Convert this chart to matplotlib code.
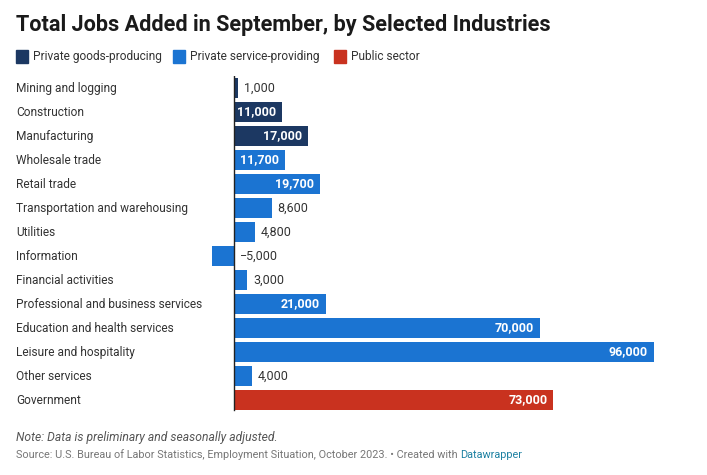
import matplotlib.pyplot as plt
import matplotlib.transforms as mtransforms
from matplotlib.patches import Rectangle

plt.rcParams['font.family'] = ['Roboto', 'DejaVu Sans']

# data
industries = ['Mining and logging', 'Construction', 'Manufacturing', 'Wholesale trade',
              'Retail trade', 'Transportation and warehousing', 'Utilities', 'Information',
              'Financial activities', 'Professional and business services',
              'Education and health services', 'Leisure and hospitality',
              'Other services', 'Government']
jobs = [1000, 11000, 17000, 11700, 19700, 8600, 4800, -5000, 3000, 21000,
        70000, 96000, 4000, 73000]
sector = ['goods', 'goods', 'goods', 'service', 'service', 'service', 'service', 'service',
          'service', 'service', 'service', 'service', 'service', 'public']
legend_labels = ['Private goods-producing', 'Private service-providing', 'Public sector']

colors = {'goods': '#1c3862', 'service': '#1b74d2', 'public': '#c9321f'}
W, H = 707, 475

fig = plt.figure(figsize=(W / 100, H / 100), dpi=100)
fig.patch.set_facecolor('white')

# axes placed in pixels: zero at x=234, 96000 at x=654
k = 420 / 96000
ax_l, ax_r = 200, 680
ax_t, ax_b = 76, 412
ax = fig.add_axes([ax_l / W, 1 - ax_b / H, (ax_r - ax_l) / W, (ax_b - ax_t) / H])
ax.set_xlim(-(234 - ax_l) / k, (ax_r - 234) / k)
ax.set_ylim(len(industries) - 0.5, -0.5)
ax.axis('off')

ypos = list(range(len(industries)))
ax.barh(ypos, jobs, height=20 / 24, color=[colors[s] for s in sector], zorder=2)
ax.axvline(0, ymin=0.005, ymax=1, color='#222222', lw=1, zorder=3)

trans = mtransforms.blended_transform_factory(fig.transFigure, ax.transData)
off = 6 / k
for y, name, v in zip(ypos, industries, jobs):
    ax.text(16 / W, y, name, transform=trans, ha='left', va='center',
            fontsize=8.6, color='#333333')
    lab = f'{abs(v):,}'
    if v < 0:
        lab = '\u2212' + lab
    if v >= 10000:
        ax.text(v - off, y, lab, ha='right', va='center', fontsize=9,
                fontweight='bold', color='white', zorder=4)
    else:
        ax.text(max(v, 0) + off, y, lab, ha='left', va='center', fontsize=9,
                color='#333333', zorder=4)

# title
fig.text(16 / W, 1 - 25.5 / H, 'Total Jobs Added in September, by Selected Industries',
         fontsize=15.6, fontweight='bold', color='#1a1a1a', ha='left', va='center')

# legend
lx = [16, 173, 334]
for x0, lab, key in zip(lx, legend_labels, ['goods', 'service', 'public']):
    fig.add_artist(Rectangle((x0 / W, 1 - 63 / H), 12 / W, 13 / H,
                             transform=fig.transFigure, color=colors[key]))
    fig.text((x0 + 17) / W, 1 - 56.5 / H, lab, fontsize=8.6, color='#333333',
             ha='left', va='center')

# notes
fig.text(16 / W, 1 - 437 / H, 'Note: Data is preliminary and seasonally adjusted.',
         fontsize=8.7, style='italic', color='#555555', ha='left', va='center')
src = fig.text(16 / W, 1 - 455 / H,
               'Source: U.S. Bureau of Labor Statistics, Employment Situation, October 2023. \u2022 Created with ',
               fontsize=7.8, color='#777777', ha='left', va='center')
fig.canvas.draw()
bb = src.get_window_extent()
fig.text(bb.x1 / W, 1 - 455 / H, 'Datawrapper', fontsize=7.8, color='#1d81a2',
         ha='left', va='center')

fig.savefig('out.png', dpi=100)
